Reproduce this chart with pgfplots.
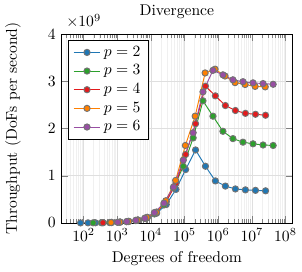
\documentclass[border=0pt]{standalone}
\usepackage{pgfplots}
\usepackage{pgfplotstable}
\pgfplotsset{compat=1.18}
\definecolor{cA}{RGB}{31,119,180}
\definecolor{cB}{RGB}{44,160,44}
\definecolor{cC}{RGB}{227,26,28}
\definecolor{cD}{RGB}{255,127,0}
\definecolor{cE}{RGB}{152,78,163}

\pgfplotstableread{
x y
81 0.0012e9
135 0.002e9
225 0.0034e9
375 0.0056e9
675 0.0100e9
1215 0.018e9
2187 0.032e9
4131 0.060e9
7803 0.112e9
14739 0.205e9
28611 0.39e9
55539 0.71e9
107811 1.13e9
212355 1.545e9
418275 1.20e9
823875 0.89e9
1635075 0.78e9
3245085 0.72e9
6440067 0.70e9
12830211 0.69e9
25560963 0.68e9
}\ptwo

\pgfplotstableread{
x y
192 0.0027e9
336 0.0047e9
588 0.0083e9
1029 0.0145e9
1911 0.027e9
3549 0.050e9
6591 0.095e9
12675 0.19e9
24375 0.38e9
46875 0.74e9
91875 1.20e9
180075 1.80e9
352947 2.585e9
698691 2.26e9
1383123 1.94e9
2738019 1.785e9
5447811 1.71e9
10839459 1.675e9
21567171 1.65e9
43022595 1.64e9
}\pthree

\pgfplotstableread{
x y
375 0.0055e9
675 0.010e9
1215 0.018e9
2187 0.033e9
4131 0.062e9
7803 0.12e9
14739 0.23e9
28611 0.45e9
55539 0.84e9
107811 1.45e9
212355 2.10e9
418275 2.895e9
823875 2.69e9
1635075 2.485e9
3245085 2.38e9
6440067 2.32e9
12830211 2.30e9
25560963 2.28e9
}\pfour

\pgfplotstableread{
x y
648 0.0095e9
1188 0.0175e9
2178 0.032e9
3993 0.060e9
7623 0.115e9
14553 0.225e9
27783 0.47e9
54243 0.90e9
105903 1.64e9
206763 2.26e9
408483 3.175e9
807003 3.255e9
1594323 3.11e9
3168963 2.97e9
6298803 2.93e9
12519843 2.89e9
24961923 2.88e9
}\pfive

\pgfplotstableread{
x y
1029 0.015e9
1911 0.029e9
3549 0.055e9
6591 0.10e9
12675 0.22e9
24375 0.42e9
46875 0.76e9
91875 1.33e9
180075 1.91e9
352947 2.775e9
698691 3.23e9
1383123 3.135e9
2738019 3.03e9
5447811 2.99e9
10839459 2.965e9
21567171 2.95e9
43022595 2.935e9
}\psix

\begin{document}
\begin{tikzpicture}
\begin{axis}[
  scale only axis,
  width=148pt, height=121pt,
  xmode=log,
  xmin=21.68, xmax=1.608e8,
  ymin=0, ymax=4e9,
  ytick={0,1e9,2e9,3e9,4e9},
  tick scale binop=\times,
  title={Divergence},
  xlabel={Degrees of freedom},
  ylabel={Throughput (DoFs per second)},
  ylabel shift=10.5pt,
  grid=both,
  major grid style={gray!25},
  minor grid style={gray!12},
  legend pos=north west,
  legend cell align=left,
  every axis plot/.append style={line width=0.6pt, mark=*, mark size=2pt},
]
\addplot[cA, mark options={draw=black!55, fill=cA}] table {\ptwo};
\addlegendentry{$p=2$}
\addplot[cB, mark options={draw=black!55, fill=cB}] table {\pthree};
\addlegendentry{$p=3$}
\addplot[cC, mark options={draw=black!55, fill=cC}] table {\pfour};
\addlegendentry{$p=4$}
\addplot[cD, mark options={draw=black!55, fill=cD}] table {\pfive};
\addlegendentry{$p=5$}
\addplot[cE, mark options={draw=black!55, fill=cE}] table {\psix};
\addlegendentry{$p=6$}
\end{axis}
\end{tikzpicture}
\end{document}
